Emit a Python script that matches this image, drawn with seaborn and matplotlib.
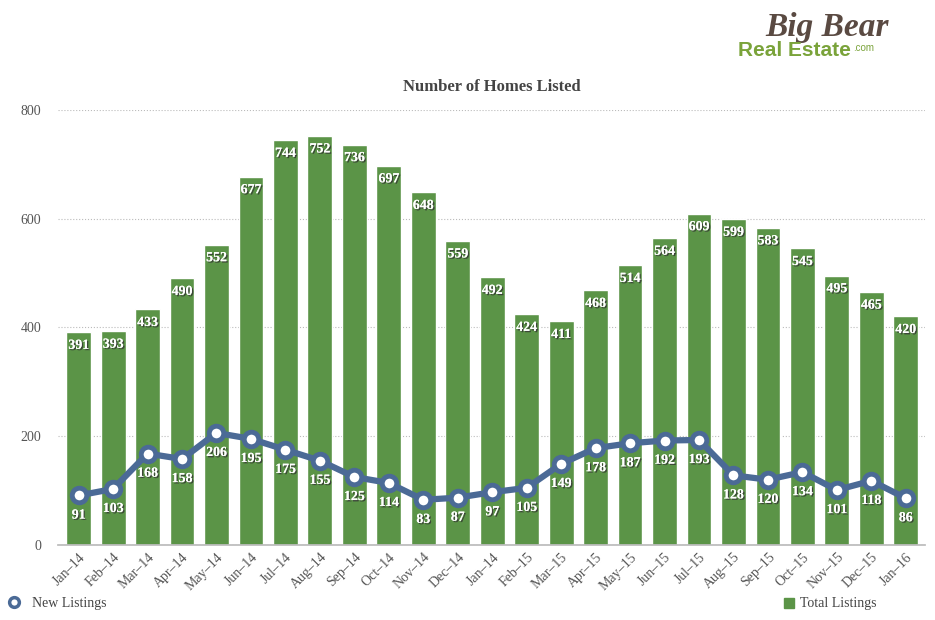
import matplotlib
matplotlib.use('Agg')

import matplotlib.pyplot as plt
import matplotlib.patheffects as pe
from matplotlib.lines import Line2D
import numpy as np
import pandas as pd
import seaborn as sns

months = ['Jan-14', 'Feb-14', 'Mar-14', 'Apr-14', 'May-14', 'Jun-14', 'Jul-14', 'Aug-14',
          'Sep-14', 'Oct-14', 'Nov-14', 'Dec-14', 'Jan-14', 'Feb-15', 'Mar-15', 'Apr-15',
          'May-15', 'Jun-15', 'Jul-15', 'Aug-15', 'Sep-15', 'Oct-15', 'Nov-15', 'Dec-15', 'Jan-16']
total_listings = [391, 393, 433, 490, 552, 677, 744, 752, 736, 697, 648, 559, 492, 424,
                  411, 468, 514, 564, 609, 599, 583, 545, 495, 465, 420]
new_listings = [91, 103, 168, 158, 206, 195, 175, 155, 125, 114, 83, 87, 97, 105,
                149, 178, 187, 192, 193, 128, 120, 134, 101, 118, 86]

BAR = '#5b9447'
LINE = '#4b6a96'

sns.set_theme(style='white')
plt.rcParams['font.family'] = ['Liberation Serif', 'DejaVu Serif']

df = pd.DataFrame({'pos': range(len(months)), 'month': months,
                   'total': total_listings, 'new': new_listings})

fig = plt.figure(figsize=(9.35, 6.2), dpi=100)
ax = fig.add_axes([0.062, 0.121, 0.927, 0.702])

ax.bar(df['pos'], df['total'], width=0.72, color=BAR, zorder=2)
sns.lineplot(data=df, x='pos', y='new', ax=ax, color=LINE, linewidth=4.5, zorder=3)
ax.scatter(df['pos'], df['new'], s=110, facecolor='white', edgecolor=LINE,
           linewidth=3.5, zorder=4)

shadow = [pe.withSimplePatchShadow(offset=(1, -1), shadow_rgbFace='#333333', alpha=0.8), pe.Normal()]
for i, (t, n) in enumerate(zip(total_listings, new_listings)):
    ax.text(i, t - 12, str(t), ha='center', va='top', color='white', fontsize=10,
            fontweight='bold', path_effects=shadow, zorder=5)
    ax.text(i, n - 24, str(n), ha='center', va='top', color='white', fontsize=10,
            fontweight='bold', path_effects=shadow, zorder=5)

ax.set_xlim(-0.6, len(months) - 0.45)
ax.set_ylim(0, 800)
ax.set_yticks([0, 200, 400, 600, 800])
ax.yaxis.grid(True, linestyle=':', color='#bbbbbb', linewidth=0.8, zorder=0)
ax.set_axisbelow(True)
ax.set_xticks(df['pos'])
ax.set_xticklabels([m.replace('-', '\u2013') for m in months], rotation=45, ha='right',
                   rotation_mode='anchor', fontsize=10, color='#555555')
ax.tick_params(axis='y', labelsize=10, labelcolor='#555555', length=0, pad=12)
ax.tick_params(axis='x', length=0, pad=4)
ax.set_xlabel('')
ax.set_ylabel('')
for s in ['top', 'right', 'left']:
    ax.spines[s].set_visible(False)
ax.spines['bottom'].set_color('#bbbbbb')

fig.text(0.526, 0.86, 'Number of Homes Listed', ha='center', va='center', fontsize=12,
         fontweight='bold', color='#444444')

# legend
fig.lines.append(Line2D([0.015], [0.029], marker='o', markersize=7, markerfacecolor='white',
                        markeredgecolor=LINE, markeredgewidth=2.5, transform=fig.transFigure))
fig.text(0.034, 0.027, 'New Listings', fontsize=10, color='#444444', va='center')
fig.patches.append(plt.Rectangle((0.838, 0.019), 0.011, 0.017, color=BAR,
                                 transform=fig.transFigure, figure=fig))
fig.text(0.856, 0.027, 'Total Listings', fontsize=10, color='#444444', va='center')

# logo
fig.text(0.885, 0.955, 'Big Bear', fontsize=24, fontstyle='italic', fontweight='bold',
         color='#5a4a42', ha='center', va='center')
fig.text(0.91, 0.918, 'Real Estate', fontsize=15, fontweight='bold', color='#7aa33a',
         ha='right', va='center', family='Liberation Sans')
fig.text(0.912, 0.922, '.com', fontsize=7, color='#7aa33a', ha='left', va='center',
         family='Liberation Sans')

fig.savefig('out.png', dpi=100, facecolor='white')
